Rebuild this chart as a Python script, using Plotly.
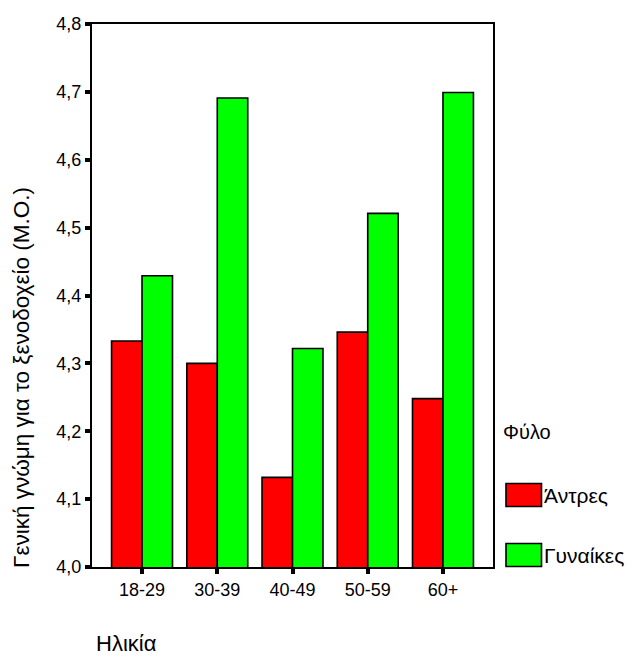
import plotly.graph_objects as go

# Mean overall opinion of the hotel by age group and sex
age_groups = ["18-29", "30-39", "40-49", "50-59", "60+"]
men = [4.333, 4.300, 4.132, 4.346, 4.248]
women = [4.429, 4.691, 4.322, 4.521, 4.699]
series_names = ["Άντρες", "Γυναίκες"]
series_colors = ["#FF0000", "#00FF00"]
y_ticks = [4.0, 4.1, 4.2, 4.3, 4.4, 4.5, 4.6, 4.7, 4.8]
y_tick_text = ["4,0", "4,1", "4,2", "4,3", "4,4", "4,5", "4,6", "4,7", "4,8"]

W, H = 637, 658
L, R, T, B = 92, 144, 24, 91
PW, PH = W - L - R, H - T - B
FONT = "Liberation Sans, Arial, sans-serif"


def px_x(px):
    return (px - L) / PW


def px_y(py):
    return (H - B - py) / PH


fig = go.Figure()
for name, vals, col in zip(series_names, [men, women], series_colors):
    fig.add_trace(go.Bar(
        x=age_groups, y=vals, name=name,
        marker=dict(color=col, line=dict(color="black", width=1.6)),
    ))

fig.update_layout(
    width=W, height=H,
    margin=dict(l=L, r=R, t=T, b=B, pad=0),
    paper_bgcolor="white", plot_bgcolor="white",
    barmode="group", bargap=0.19, bargroupgap=0,
    showlegend=False,
    font=dict(family=FONT, color="black"),
)
fig.update_xaxes(
    type="category", range=[-0.665, 4.665],
    showline=True, linecolor="black", linewidth=2, mirror=True,
    ticks="outside", ticklen=5, tickwidth=4, tickcolor="black",
    tickfont=dict(size=18, family=FONT), showgrid=False, zeroline=False,
)
fig.update_yaxes(
    range=[4.0, 4.8], tickvals=y_ticks, ticktext=y_tick_text,
    showline=True, linecolor="black", linewidth=2, mirror=True,
    ticks="outside", ticklen=5, tickwidth=4, tickcolor="black",
    tickfont=dict(size=18, family=FONT), showgrid=False, zeroline=False,
)

# axis titles
fig.add_annotation(
    text="Γενική γνώμη για το ξενοδοχείο (Μ.Ο.)", textangle=-90,
    xref="paper", yref="paper", x=px_x(21), y=px_y(378),
    xanchor="center", yanchor="middle", showarrow=False,
    font=dict(size=22.5, family=FONT),
)
fig.add_annotation(
    text="Ηλικία", xref="paper", yref="paper", x=px_x(94), y=px_y(643),
    xanchor="left", yanchor="middle", showarrow=False,
    font=dict(size=22, family=FONT),
)

# legend drawn beside the plot
fig.add_annotation(
    text="Φύλο", xref="paper", yref="paper", x=px_x(501), y=px_y(432),
    xanchor="left", yanchor="middle", showarrow=False,
    font=dict(size=20, family=FONT),
)
legend_rows = [495, 555]
for name, col, cy in zip(series_names, series_colors, legend_rows):
    fig.add_shape(
        type="rect", xref="paper", yref="paper",
        x0=px_x(506), x1=px_x(541.5), y0=px_y(cy + 11.5), y1=px_y(cy - 11.5),
        fillcolor=col, line=dict(color="black", width=1.6),
    )
    fig.add_annotation(
        text=name, xref="paper", yref="paper", x=px_x(542), y=px_y(cy),
        xanchor="left", yanchor="middle", showarrow=False,
        font=dict(size=21, family=FONT),
    )

fig.write_html("out.html")
